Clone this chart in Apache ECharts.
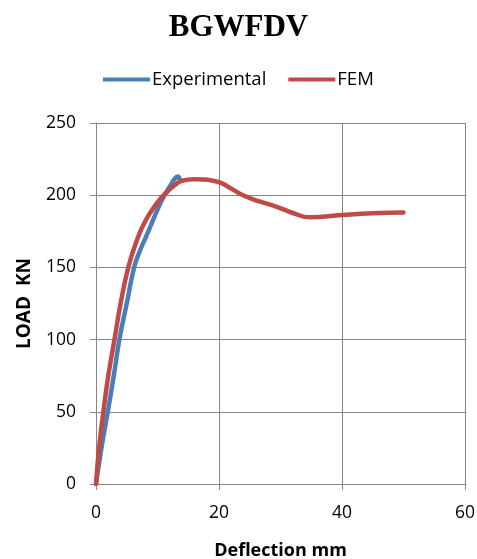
<!DOCTYPE html>
<html><head><meta charset="utf-8">
<script src="https://cdn.jsdelivr.net/npm/echarts@6/dist/echarts.min.js"></script>
<style>html,body{margin:0;padding:0;background:#fff}#c{width:477px;height:559px}</style>
</head><body><div id="c"></div>
<script>
var chartTitle = "BGWFDV";
var xTicks = [0, 20, 40, 60];
var yTicks = [0, 50, 100, 150, 200, 250];
var expX = [0, 1, 2, 3, 3.8, 5, 6.2, 7, 8, 9, 10, 11, 12, 12.8, 13.3, 13.6];
var expY = [0, 28, 52, 78, 100, 125, 150, 160, 170, 180, 190, 199, 206, 211.5, 213, 211];
var femX = [0, 0.5, 1.2, 2, 3, 4, 5.25, 6.5, 8, 10, 11.5, 12.8, 14, 16, 19.6, 21.8, 23.9, 26.7, 29.4, 32.1, 34.8, 40, 45, 50];
var femY = [0, 25, 50, 75, 100, 125, 150, 167, 182, 195, 202, 207, 210, 211, 209.5, 205, 200, 195.5, 192, 187.5, 184.7, 186.3, 187.5, 188];

function pairs(xs, ys){ return xs.map(function(x,i){ return [x, ys[i]]; }); }
var gridColor = '#868686';
var chart = echarts.init(document.getElementById('c'));
chart.setOption({
  animation: false,
  title: { text: chartTitle, left: 'center', top: 7,
    textStyle: { fontFamily: 'Liberation Serif', fontWeight: 'bold', fontSize: 31, color: '#000' } },
  legend: { top: 65, left: 98, itemWidth: 47, itemHeight: 4, itemGap: 22,
    icon: 'rect',
    textStyle: { fontFamily: 'Open Sans', fontSize: 18.5, color: '#000', padding: [0,0,0,-3] },
    data: ['Experimental', 'FEM'] },
  grid: { left: 96, right: 12, top: 123, bottom: 75, containLabel: false, outerBoundsMode: 'none' },
  xAxis: { type: 'value', min: xTicks[0], max: xTicks[xTicks.length-1], interval: 20,
    name: 'Deflection mm', nameLocation: 'middle', nameGap: 58,
    nameTextStyle: { fontFamily: 'Open Sans', fontWeight: 'bold', fontSize: 18, color: '#000' },
    axisLine: { show: true, lineStyle: { color: gridColor, width: 1 } },
    axisTick: { show: true, inside: false, length: 6, lineStyle: { color: gridColor } },
    axisLabel: { margin: 20, fontFamily: 'Open Sans', fontSize: 17.5, color: '#000' },
    splitLine: { show: true, lineStyle: { color: gridColor, width: 1 } } },
  yAxis: { type: 'value', min: yTicks[0], max: yTicks[yTicks.length-1], interval: 50,
    name: 'LOAD  KN', nameLocation: 'middle', nameGap: 62, nameRotate: 90,
    nameTextStyle: { fontFamily: 'Open Sans', fontWeight: 'bold', fontSize: 19, color: '#000' },
    axisLine: { show: true, lineStyle: { color: gridColor, width: 1 } },
    axisTick: { show: true, inside: false, length: 6, lineStyle: { color: gridColor } },
    axisLabel: { margin: 20, fontFamily: 'Open Sans', fontSize: 17.5, color: '#000' },
    splitLine: { show: true, lineStyle: { color: gridColor, width: 1 } } },
  series: [
    { name: 'Experimental', type: 'line', data: pairs(expX, expY), smooth: 0.5, showSymbol: false,
      symbol: 'none', lineStyle: { color: '#4a7ebb', width: 4.5, cap: 'round', join: 'round' }, itemStyle: { color: '#4a7ebb' } },
    { name: 'FEM', type: 'line', data: pairs(femX, femY), smooth: 0.5, showSymbol: false,
      symbol: 'none', lineStyle: { color: '#be4b48', width: 4.5, cap: 'round', join: 'round' }, itemStyle: { color: '#be4b48' } }
  ]
});
</script></body></html>
